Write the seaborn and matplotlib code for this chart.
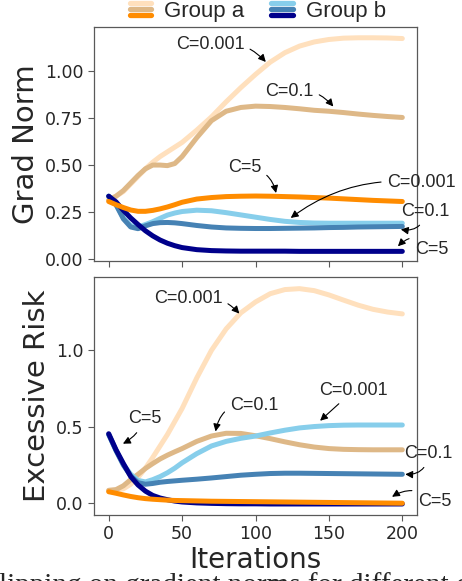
import numpy as np
import pandas as pd
import matplotlib
matplotlib.use("Agg")
import matplotlib.pyplot as plt
import seaborn as sns
from matplotlib.legend_handler import HandlerBase
from matplotlib.lines import Line2D

# ---------------- data ----------------
iterations = [0, 5, 10, 15, 20, 25, 30, 35, 40, 45, 50, 60, 70, 80, 90,
              100, 110, 120, 130, 140, 150, 160, 170, 180, 190, 200]

# gradient norm
grad_a_c0001 = [0.315, 0.335, 0.36, 0.40, 0.44, 0.48, 0.515, 0.545, 0.57, 0.595, 0.62, 0.685,
                0.755, 0.835, 0.91, 0.98, 1.045, 1.095, 1.13, 1.152, 1.165, 1.172, 1.174,
                1.174, 1.173, 1.17]
grad_a_c01 = [0.315, 0.335, 0.365, 0.405, 0.445, 0.48, 0.5, 0.5, 0.497, 0.508, 0.545, 0.645,
              0.735, 0.785, 0.805, 0.812, 0.81, 0.805, 0.798, 0.79, 0.785, 0.778, 0.77,
              0.763, 0.757, 0.752]
grad_a_c5 = [0.307, 0.29, 0.275, 0.262, 0.255, 0.255, 0.26, 0.268, 0.278, 0.29, 0.303, 0.32,
             0.328, 0.333, 0.335, 0.336, 0.335, 0.333, 0.331, 0.328, 0.325, 0.321, 0.317,
             0.313, 0.31, 0.307]
grad_b_c0001 = [0.335, 0.29, 0.22, 0.18, 0.172, 0.185, 0.2, 0.218, 0.235, 0.246, 0.254, 0.261,
                0.258, 0.248, 0.236, 0.224, 0.212, 0.202, 0.196, 0.193, 0.192, 0.192, 0.192,
                0.192, 0.192, 0.192]
grad_b_c01 = [0.335, 0.29, 0.215, 0.172, 0.163, 0.178, 0.19, 0.195, 0.196, 0.194, 0.19, 0.18,
              0.172, 0.167, 0.165, 0.164, 0.164, 0.165, 0.166, 0.167, 0.169, 0.17, 0.172,
              0.173, 0.174, 0.175]
grad_b_c5 = [0.335, 0.305, 0.26, 0.22, 0.185, 0.152, 0.125, 0.103, 0.086, 0.073, 0.063, 0.052,
             0.047, 0.045, 0.044, 0.044, 0.044, 0.044, 0.043, 0.043, 0.043, 0.043, 0.043,
             0.043, 0.043, 0.043]

# excessive risk
risk_a_c0001 = [0.085, 0.085, 0.095, 0.125, 0.17, 0.23, 0.30, 0.375, 0.45, 0.535, 0.62, 0.82,
                1.00, 1.14, 1.245, 1.316, 1.37, 1.397, 1.403, 1.39, 1.362, 1.328, 1.295,
                1.268, 1.25, 1.238]
risk_a_c01 = [0.085, 0.09, 0.115, 0.155, 0.19, 0.228, 0.26, 0.29, 0.315, 0.337, 0.358, 0.405,
              0.44, 0.458, 0.457, 0.442, 0.423, 0.402, 0.383, 0.368, 0.358, 0.353, 0.351,
              0.35, 0.35, 0.35]
risk_a_c5 = [0.076, 0.066, 0.055, 0.045, 0.037, 0.031, 0.027, 0.024, 0.021, 0.019, 0.018, 0.016,
             0.014, 0.013, 0.012, 0.011, 0.01, 0.009, 0.008, 0.007, 0.006, 0.005, 0.004,
             0.003, 0.002, 0.001]
risk_b_c0001 = [0.45, 0.345, 0.255, 0.19, 0.15, 0.14, 0.155, 0.175, 0.2, 0.23, 0.265, 0.325,
                0.375, 0.405, 0.425, 0.44, 0.46, 0.478, 0.493, 0.502, 0.508, 0.511, 0.512,
                0.512, 0.512, 0.512]
risk_b_c01 = [0.45, 0.345, 0.25, 0.18, 0.135, 0.125, 0.13, 0.138, 0.143, 0.147, 0.151, 0.158,
              0.166, 0.175, 0.184, 0.19, 0.195, 0.197, 0.197, 0.196, 0.195, 0.194, 0.193,
              0.192, 0.191, 0.19]
risk_b_c5 = [0.455, 0.35, 0.26, 0.175, 0.12, 0.08, 0.052, 0.035, 0.024, 0.015, 0.009, 0.003,
             0.0, -0.002, -0.003, -0.003, -0.004, -0.004, -0.004, -0.004, -0.004, -0.004,
             -0.004, -0.004, -0.004, -0.004]

series_names = ["a C=0.001", "a C=0.1", "b C=0.001", "b C=0.1", "b C=5", "a C=5"]
series_colors = ["#FFE0BD", "#DEB887", "#87CEEB", "#4682B4", "#00008B", "#FF8C00"]
group_a_colors = ["#FFE0BD", "#DEB887", "#FF8C00"]
group_b_colors = ["#87CEEB", "#4682B4", "#00008B"]
group_labels = ["Group a", "Group b"]

grad_series = [grad_a_c0001, grad_a_c01, grad_b_c0001, grad_b_c01, grad_b_c5, grad_a_c5]
risk_series = [risk_a_c0001, risk_a_c01, risk_b_c0001, risk_b_c01, risk_b_c5, risk_a_c5]


def long_frame(values_list):
    rows = []
    for name, vals in zip(series_names, values_list):
        for it, v in zip(iterations, vals):
            rows.append({"iteration": it, "value": v, "series": name})
    return pd.DataFrame(rows)


# ---------------- figure ----------------
sns.set_style("ticks")
plt.rcParams["font.family"] = ["DejaVu Sans"]

fig = plt.figure(figsize=(4.62, 5.81), dpi=100)
ax1 = fig.add_axes([0.2035, 0.5508, 0.6991, 0.4027])
ax2 = fig.add_axes([0.2035, 0.1136, 0.6991, 0.4096])

palette = dict(zip(series_names, series_colors))
for ax, vals in ((ax1, grad_series), (ax2, risk_series)):
    sns.lineplot(data=long_frame(vals), x="iteration", y="value", hue="series",
                 hue_order=series_names, palette=palette, estimator=None,
                 linewidth=3.6, legend=False, ax=ax)
    for s in ax.spines.values():
        s.set_visible(True)
        s.set_color("0.35")
        s.set_linewidth(0.9)
    ax.tick_params(labelsize=12.5, color="0.35", length=4.5, pad=3)
    ax.set_xticks([0, 50, 100, 150, 200])

ax1.set_ylim(-0.008, 1.231)
ax1.set_yticks([0.0, 0.25, 0.5, 0.75, 1.0])
ax1.set_yticklabels(["0.00", "0.25", "0.50", "0.75", "1.00"])
ax1.set_xticklabels([])
ax1.set_xlabel("")
ax1.set_ylabel("Grad Norm", fontsize=21)

ax2.set_ylim(-0.076, 1.479)
ax2.set_yticks([0.0, 0.5, 1.0])
ax2.set_yticklabels(["0.0", "0.5", "1.0"])
ax2.set_xlabel("Iterations", fontsize=20, labelpad=2)
ax2.set_ylabel("Excessive Risk", fontsize=21)

for ax in (ax1, ax2):
    ax.set_xlim(-10, 210)


# ---------------- annotations ----------------
def note(ax, text, xy, xytext, rad):
    ax.annotate(text, xy=xy, xytext=xytext, ha="center", va="center",
                family="Liberation Sans", fontsize=13, annotation_clip=False,
                arrowprops=dict(arrowstyle="-|>", color="black", lw=0.8,
                                mutation_scale=11, shrinkA=2, shrinkB=0,
                                connectionstyle=f"arc3,rad={rad}"))


note(ax1, "C=0.001", (107, 1.046), (69, 1.136), -0.3)
note(ax1, "C=0.1", (153, 0.81), (123, 0.89), -0.3)
note(ax1, "C=5", (114, 0.352), (92.6, 0.485), -0.4)
note(ax1, "C=0.001", (124, 0.22), (213, 0.407), 0.2)
note(ax1, "C=0.1", (199, 0.159), (216, 0.255), -0.5)
note(ax1, "C=5", (197, 0.07), (220, 0.053), 0.6)

note(ax2, "C=0.001", (89, 1.24), (54, 1.34), -0.3)
note(ax2, "C=5", (9.7, 0.39), (24.3, 0.553), -0.2)
note(ax2, "C=0.1", (72.8, 0.47), (99, 0.64), 0.5)
note(ax2, "C=0.001", (144, 0.54), (167, 0.74), 0.0)
note(ax2, "C=0.1", (202, 0.19), (217.6, 0.327), -0.5)
note(ax2, "C=5", (193, 0.043), (222, 0.01), 0.4)


# ---------------- legend ----------------
class StackedBars:
    def __init__(self, colors):
        self.colors = colors


class StackedBarsHandler(HandlerBase):
    def create_artists(self, legend, orig_handle, xdescent, ydescent, width,
                       height, fontsize, trans):
        artists = []
        n = len(orig_handle.colors)
        for i, c in enumerate(orig_handle.colors):
            y = -ydescent + height * (1 - (i + 0.5) / n)
            artists.append(Line2D([-xdescent + 1.9, -xdescent + width - 1.9], [y, y],
                                  color=c, lw=3.8, solid_capstyle="round",
                                  transform=trans))
        return artists


fig.legend(handles=[StackedBars(group_a_colors), StackedBars(group_b_colors)],
           labels=group_labels,
           handler_map={StackedBars: StackedBarsHandler()},
           loc="center", bbox_to_anchor=(0.555, 0.981), ncol=2, frameon=False,
           prop={"family": "Liberation Sans", "size": 16},
           handlelength=1.21, handleheight=0.9, handletextpad=0.45,
           columnspacing=1.1, borderpad=0.0, borderaxespad=0.0)

# caption line running off the bottom edge
fig.text(-0.03, -0.02, "clipping on gradient norms for different clipping",
         family="Liberation Serif", fontsize=21, va="baseline", ha="left")

fig.savefig("out.png", dpi=100)
